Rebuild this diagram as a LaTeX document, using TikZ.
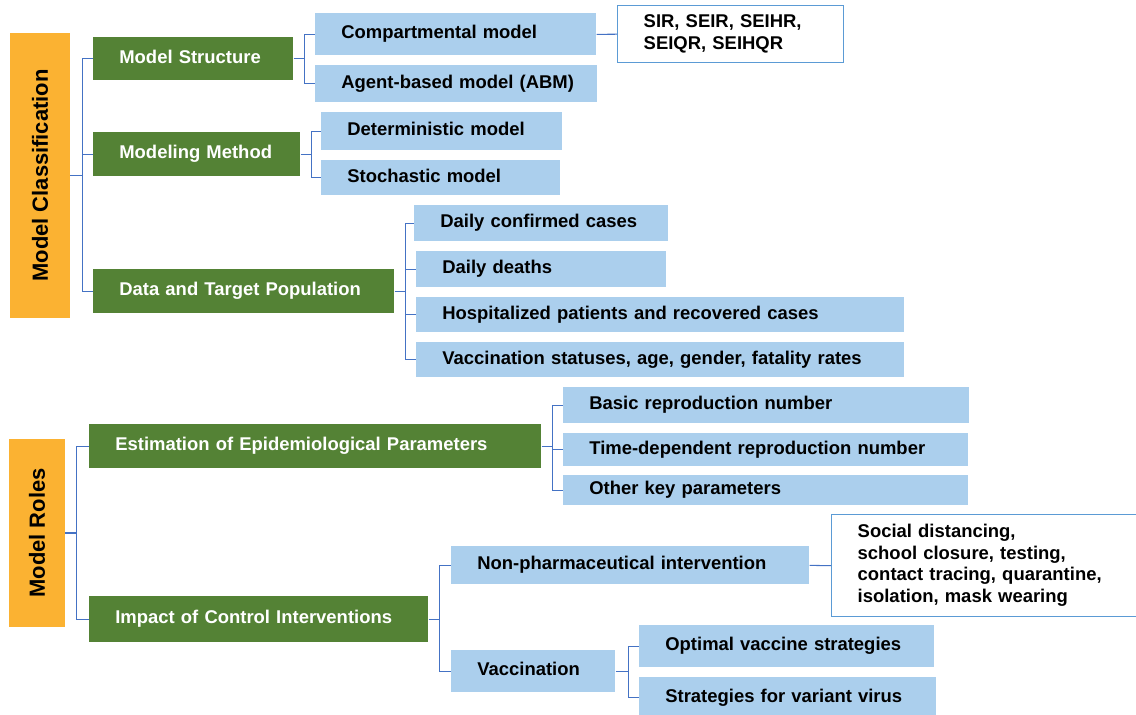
\documentclass[tikz,border=0pt]{standalone}
\usepackage{fontspec}
\setmainfont{Liberation Sans}
\usepackage{tikz}
\usetikzlibrary{calc}

\definecolor{rolegold}{RGB}{251,178,50}
\definecolor{grpgreen}{RGB}{84,130,53}
\definecolor{itemblue}{RGB}{171,207,237}
\definecolor{linkblue}{RGB}{68,114,196}
\definecolor{edgeblue}{RGB}{91,155,213}

\tikzset{
	orangebox/.style={fill=rolegold, draw=none, inner sep=0pt, font=\bfseries\fontsize{12.5}{14}\selectfont},
	greenbox/.style={fill=grpgreen, draw=none, text=white, inner xsep=0.52cm, inner ysep=0.05cm, align=left, font=\bfseries\fontsize{10.5}{12.3}\selectfont},
	bluebox/.style={fill=itemblue, draw=none, text=black, inner xsep=0.52cm, inner ysep=0.05cm, align=left, font=\bfseries\fontsize{10.5}{12.3}\selectfont},
	notebox/.style={fill=white, draw=edgeblue, line width=0.8pt, text=black, inner xsep=0.52cm, inner ysep=0.05cm, align=left, font=\bfseries\fontsize{10.5}{12.3}\selectfont},
	link/.style={draw=linkblue, line width=0.6pt}
}

% box from its top left corner to its bottom right corner (in px)
\def\tbox[#1](#2)(#3,#4:#5,#6)#7{%
	\pgfmathsetmacro\bw{(#5-#3)*0.02}%
	\pgfmathsetmacro\bh{(#6-#4)*0.02}%
	\pgfmathsetmacro\tw{(#5-#3-52)*0.02}%
	\node[#1, anchor=north west, minimum width=\bw cm, minimum height=\bh cm, text width=\tw cm] (#2) at (#3,#4) {\begin{tabular}{@{}l@{}}#7\end{tabular}};}

\begin{document}
\begin{tikzpicture}[x=0.02cm, y=-0.02cm]
		%%%%% START %%%%%
		
		\useasboundingbox (0,0) rectangle (1136,714);
		
		% model classification
		\node[orangebox, minimum width=5.7cm, minimum height=1.2cm, rotate=90] (cls) at (40,175.5) {Model Classification};
		
		\tbox[greenbox](struct)(93,37:293,80){Model Structure}
		\tbox[greenbox](method)(93,132:300,176){Modeling Method}
		\tbox[greenbox](data)(93,269:394,313){Data and Target Population}
		
		\tbox[bluebox](comp)(315,13:596,55){Compartmental model}
		\tbox[bluebox](abm)(315,65:597,102){Agent-based model (ABM)}
		\tbox[notebox](sir)(617,5:843,62){SIR, SEIR, SEIHR,\\SEIQR, SEIHQR}
		
		\tbox[bluebox](determ)(321,112:562,150){Deterministic model}
		\tbox[bluebox](stoch)(321,160:560,195){Stochastic model}
		
		\tbox[bluebox](cases)(414,205:668,241){Daily confirmed cases}
		\tbox[bluebox](deaths)(416,251:666,287){Daily deaths}
		\tbox[bluebox](hosp)(416,297:904,332){Hospitalized patients and recovered cases}
		\tbox[bluebox](vstat)(416,342:904,377){Vaccination statuses, age, gender, fatality rates}
		
		\draw[link] (cls.south) -- ++(12,0) coordinate (t1);
		\draw[link] (t1) |- (struct.west);
		\draw[link] (t1) |- (method.west);
		\draw[link] (t1) |- (data.west);
		
		\draw[link] (struct.east) -- ++(11,0) coordinate (t2);
		\draw[link] (t2) |- (comp.west);
		\draw[link] (t2) |- (abm.west);
		\draw[link] (comp.east) -- (sir.west);
		
		\draw[link] (method.east) -- ++(11,0) coordinate (t3);
		\draw[link] (t3) |- (determ.west);
		\draw[link] (t3) |- (stoch.west);
		
		\draw[link] (data.east) -- ++(11,0) coordinate (t4);
		\draw[link] (t4) |- (cases.west);
		\draw[link] (t4) |- (deaths.west);
		\draw[link] (t4) |- (hosp.west);
		\draw[link] (t4) |- (vstat.west);
		
		% model roles
		\node[orangebox, minimum width=3.76cm, minimum height=1.12cm, rotate=90] (roles) at (37,533) {Model Roles};
		
		\tbox[greenbox](estim)(89,424:541,468){Estimation of Epidemiological Parameters}
		\tbox[greenbox](impact)(89,596:428,642){Impact of Control Interventions}
		
		\tbox[bluebox](basic)(563,387:969,423){Basic reproduction number}
		\tbox[bluebox](timedep)(563,433:968,466){Time-dependent reproduction number}
		\tbox[bluebox](other)(563,475:968,505){Other key parameters}
		
		\tbox[bluebox](npi)(451,546:809,584){Non-pharmaceutical intervention}
		\tbox[notebox](npilist)(831,514:1140,616){Social distancing,\\school closure, testing,\\contact tracing, quarantine,\\isolation, mask wearing}
		\tbox[bluebox](vacc)(451,650:615,692){Vaccination}
		\tbox[bluebox](optim)(639,625:934,667){Optimal vaccine strategies}
		\tbox[bluebox](variant)(639,677:936,718){Strategies for variant virus}
		
		\draw[link] (roles.south) -- ++(11,0) coordinate (t5);
		\draw[link] (t5) |- (estim.west);
		\draw[link] (t5) |- (impact.west);
		
		\draw[link] (estim.east) -- ++(11,0) coordinate (t6);
		\draw[link] (t6) |- (basic.west);
		\draw[link] (t6) |- (timedep.west);
		\draw[link] (t6) |- (other.west);
		
		\draw[link] (impact.east) -- ++(11,0) coordinate (t7);
		\draw[link] (t7) |- (npi.west);
		\draw[link] (t7) |- (vacc.west);
		\draw[link] (npi.east) -- (npilist.west);
		
		\draw[link] (vacc.east) -- ++(13,0) coordinate (t8);
		\draw[link] (t8) |- (optim.west);
		\draw[link] (t8) |- (variant.west);
		
		%%%%% END %%%%%
	\end{tikzpicture}
\end{document}
